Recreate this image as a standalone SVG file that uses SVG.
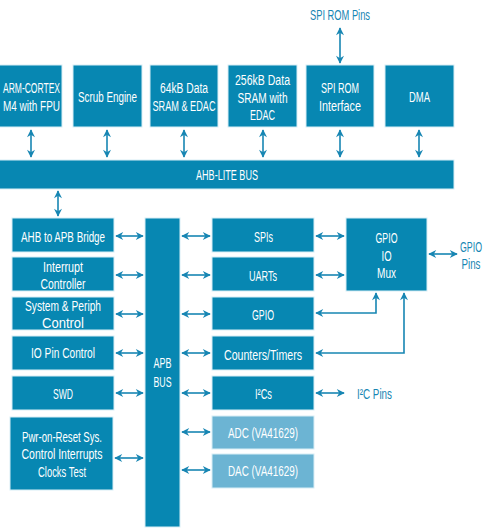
<svg xmlns="http://www.w3.org/2000/svg" width="500" height="529" viewBox="0 0 500 529">
<defs>
<marker id="ah" viewBox="0 0 10 10" refX="9" refY="5" markerWidth="9" markerHeight="8" markerUnits="userSpaceOnUse" orient="auto-start-reverse">
<path d="M0,0 L10,5 L0,10 L3,5 Z" fill="#1786b3"/>
</marker>
</defs>
<style>
.b{fill:#0787b2;stroke:#d8eef6;stroke-width:1}
.l{fill:#6cb4d3;stroke:#d8eef6;stroke-width:1}
text{font-family:"Liberation Sans",Arial,sans-serif;font-size:14px}
.t{fill:#ffffff;text-anchor:middle}
.o{fill:#1786b3;text-anchor:middle}
.c{stroke:#1786b3;stroke-width:1.6;fill:none}
</style>
<rect width="500" height="529" fill="#ffffff"/>

<g id="arm"><rect class="b" x="-1" y="65" width="63" height="62"/><text class="t" x="31.5" y="93" textLength="57" lengthAdjust="spacingAndGlyphs">ARM-CORTEX</text><text class="t" x="31.5" y="111" textLength="57" lengthAdjust="spacingAndGlyphs">M4 with FPU</text></g>
<g id="scrub"><rect class="b" x="73" y="65" width="69" height="62"/><text class="t" x="107.5" y="102" textLength="59" lengthAdjust="spacingAndGlyphs">Scrub Engine</text></g>
<g id="sram64"><rect class="b" x="150" y="65" width="68" height="62"/><text class="t" x="184" y="93" textLength="48" lengthAdjust="spacingAndGlyphs">64kB Data</text><text class="t" x="184" y="111" textLength="63" lengthAdjust="spacingAndGlyphs">SRAM &amp; EDAC</text></g>
<g id="sram256"><rect class="b" x="228" y="65" width="69" height="62"/><text class="t" x="262.5" y="85" textLength="55" lengthAdjust="spacingAndGlyphs">256kB Data</text><text class="t" x="262.5" y="102.5" textLength="50" lengthAdjust="spacingAndGlyphs">SRAM with</text><text class="t" x="262.5" y="120" textLength="25" lengthAdjust="spacingAndGlyphs">EDAC</text></g>
<g id="spirom"><rect class="b" x="306" y="65" width="68" height="62"/><text class="t" x="340" y="93" textLength="38" lengthAdjust="spacingAndGlyphs">SPI ROM</text><text class="t" x="340" y="111" textLength="42" lengthAdjust="spacingAndGlyphs">Interface</text></g>
<g id="dma"><rect class="b" x="385" y="65" width="69" height="62"/><text class="t" x="419.5" y="102" textLength="21" lengthAdjust="spacingAndGlyphs">DMA</text></g>
<text class="o" x="340" y="20" textLength="60" lengthAdjust="spacingAndGlyphs">SPI ROM Pins</text>

<g id="ahb"><rect class="b" x="-1" y="160" width="455" height="29"/><text class="t" x="227" y="180" textLength="62" lengthAdjust="spacingAndGlyphs">AHB-LITE BUS</text></g>

<g id="bridge"><rect class="b" x="12" y="218" width="102" height="34"/><text class="t" x="63" y="242" textLength="84" lengthAdjust="spacingAndGlyphs">AHB to APB Bridge</text></g>
<g id="intc"><rect class="b" x="12" y="257" width="102" height="34"/><text class="t" x="63" y="271.5" textLength="40" lengthAdjust="spacingAndGlyphs">Interrupt</text><text class="t" x="63" y="288.5" textLength="45" lengthAdjust="spacingAndGlyphs">Controller</text></g>
<g id="sysctl"><rect class="b" x="12" y="297" width="102" height="33"/><text class="t" x="63" y="311" textLength="76" lengthAdjust="spacingAndGlyphs">System &amp; Periph</text><text class="t" x="63" y="328" textLength="42" lengthAdjust="spacingAndGlyphs">Control</text></g>
<g id="iopin"><rect class="b" x="12" y="336" width="102" height="34"/><text class="t" x="63" y="358" textLength="64" lengthAdjust="spacingAndGlyphs">IO Pin Control</text></g>
<g id="swd"><rect class="b" x="12" y="376" width="102" height="34"/><text class="t" x="63" y="399" textLength="20" lengthAdjust="spacingAndGlyphs">SWD</text></g>
<g id="pwr"><rect class="b" x="10" y="417" width="103" height="73"/><text class="t" x="62" y="442" textLength="80" lengthAdjust="spacingAndGlyphs">Pwr-on-Reset Sys.</text><text class="t" x="62" y="459" textLength="81" lengthAdjust="spacingAndGlyphs">Control Interrupts</text><text class="t" x="62" y="477" textLength="48" lengthAdjust="spacingAndGlyphs">Clocks Test</text></g>

<g id="apb"><rect class="b" x="145" y="218" width="35" height="309"/><text class="t" x="162.5" y="368" textLength="18" lengthAdjust="spacingAndGlyphs">APB</text><text class="t" x="162.5" y="387" textLength="18" lengthAdjust="spacingAndGlyphs">BUS</text></g>

<g id="spis"><rect class="b" x="212" y="218" width="102" height="34"/><text class="t" x="263.5" y="242" textLength="19" lengthAdjust="spacingAndGlyphs">SPIs</text></g>
<g id="uarts"><rect class="b" x="212" y="257" width="102" height="34"/><text class="t" x="263" y="281" textLength="28" lengthAdjust="spacingAndGlyphs">UARTs</text></g>
<g id="gpio"><rect class="b" x="212" y="297" width="102" height="33"/><text class="t" x="263" y="320" textLength="22" lengthAdjust="spacingAndGlyphs">GPIO</text></g>
<g id="timers"><rect class="b" x="212" y="336" width="102" height="34"/><text class="t" x="263" y="360" textLength="78" lengthAdjust="spacingAndGlyphs">Counters/Timers</text></g>
<g id="i2c"><rect class="b" x="212" y="376" width="102" height="34"/><text class="t" x="263.5" y="399" textLength="17" lengthAdjust="spacingAndGlyphs">I²Cs</text></g>
<g id="adc"><rect class="l" x="212" y="416" width="102" height="33"/><text class="t" x="263" y="438" textLength="70" lengthAdjust="spacingAndGlyphs">ADC (VA41629)</text></g>
<g id="dac"><rect class="l" x="212" y="454" width="102" height="34"/><text class="t" x="263" y="476" textLength="70" lengthAdjust="spacingAndGlyphs">DAC (VA41629)</text></g>

<g id="mux"><rect class="b" x="346" y="218" width="81" height="73"/><text class="t" x="386.5" y="243" textLength="22" lengthAdjust="spacingAndGlyphs">GPIO</text><text class="t" x="386.5" y="260.5" textLength="10" lengthAdjust="spacingAndGlyphs">IO</text><text class="t" x="386.5" y="278" textLength="19" lengthAdjust="spacingAndGlyphs">Mux</text></g>
<text class="o" x="471" y="252" textLength="22" lengthAdjust="spacingAndGlyphs">GPIO</text>
<text class="o" x="471" y="269" textLength="19" lengthAdjust="spacingAndGlyphs">Pins</text>
<text class="o" x="374.5" y="399" textLength="35" lengthAdjust="spacingAndGlyphs">I²C Pins</text>

<g id="connectors">
<line class="c" x1="31" y1="130" x2="31" y2="157" marker-start="url(#ah)" marker-end="url(#ah)"/>
<line class="c" x1="107" y1="130" x2="107" y2="157" marker-start="url(#ah)" marker-end="url(#ah)"/>
<line class="c" x1="184" y1="130" x2="184" y2="157" marker-start="url(#ah)" marker-end="url(#ah)"/>
<line class="c" x1="263" y1="130" x2="263" y2="157" marker-start="url(#ah)" marker-end="url(#ah)"/>
<line class="c" x1="340" y1="130" x2="340" y2="157" marker-start="url(#ah)" marker-end="url(#ah)"/>
<line class="c" x1="419" y1="130" x2="419" y2="157" marker-start="url(#ah)" marker-end="url(#ah)"/>
<line class="c" x1="340" y1="28" x2="340" y2="63" marker-start="url(#ah)" marker-end="url(#ah)"/>
<line class="c" x1="58" y1="191" x2="58" y2="216" marker-start="url(#ah)" marker-end="url(#ah)"/>

<line class="c" x1="116" y1="236" x2="143" y2="236" marker-start="url(#ah)" marker-end="url(#ah)"/>
<line class="c" x1="116" y1="275" x2="143" y2="275" marker-start="url(#ah)" marker-end="url(#ah)"/>
<line class="c" x1="116" y1="314" x2="143" y2="314" marker-start="url(#ah)" marker-end="url(#ah)"/>
<line class="c" x1="116" y1="353" x2="143" y2="353" marker-start="url(#ah)" marker-end="url(#ah)"/>
<line class="c" x1="116" y1="393" x2="143" y2="393" marker-start="url(#ah)" marker-end="url(#ah)"/>
<line class="c" x1="115" y1="458" x2="143" y2="458" marker-start="url(#ah)" marker-end="url(#ah)"/>

<line class="c" x1="182" y1="236" x2="210" y2="236" marker-start="url(#ah)" marker-end="url(#ah)"/>
<line class="c" x1="182" y1="275" x2="210" y2="275" marker-start="url(#ah)" marker-end="url(#ah)"/>
<line class="c" x1="182" y1="314" x2="210" y2="314" marker-start="url(#ah)" marker-end="url(#ah)"/>
<line class="c" x1="182" y1="353" x2="210" y2="353" marker-start="url(#ah)" marker-end="url(#ah)"/>
<line class="c" x1="182" y1="393" x2="210" y2="393" marker-start="url(#ah)" marker-end="url(#ah)"/>
<line class="c" x1="182" y1="432" x2="210" y2="432" marker-start="url(#ah)" marker-end="url(#ah)"/>
<line class="c" x1="182" y1="470" x2="210" y2="470" marker-start="url(#ah)" marker-end="url(#ah)"/>

<line class="c" x1="316" y1="236" x2="344" y2="236" marker-start="url(#ah)" marker-end="url(#ah)"/>
<line class="c" x1="316" y1="275" x2="344" y2="275" marker-start="url(#ah)" marker-end="url(#ah)"/>
<line class="c" x1="316" y1="393" x2="344" y2="393" marker-start="url(#ah)" marker-end="url(#ah)"/>
<line class="c" x1="429" y1="254" x2="457" y2="254" marker-start="url(#ah)" marker-end="url(#ah)"/>
<path class="c" d="M316,313 L376,313 L376,293" marker-start="url(#ah)" marker-end="url(#ah)"/>
<path class="c" d="M316,353 L404,353 L404,293" marker-start="url(#ah)" marker-end="url(#ah)"/>
</g>
</svg>
